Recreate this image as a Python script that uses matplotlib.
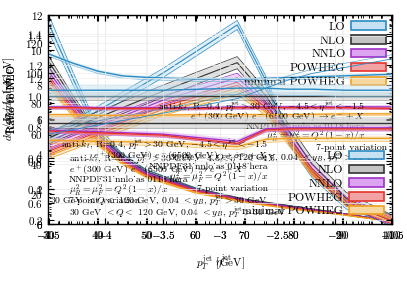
import numpy as np
import matplotlib
matplotlib.use("Agg")
import matplotlib.pyplot as plt
from matplotlib.patches import Patch
from matplotlib.ticker import FuncFormatter, MultipleLocator, AutoMinorLocator

plt.rcParams['font.family'] = 'serif'
plt.rcParams['font.serif'] = ['cmr10', 'DejaVu Serif']
plt.rcParams['mathtext.fontset'] = 'cm'
plt.rcParams['axes.formatter.use_mathtext'] = True
plt.rcParams['axes.unicode_minus'] = False

# order / colours of the predictions
labels = ['LO', 'NLO', 'NNLO', 'POWHEG', 'minimal POWHEG']
edge = ['#2a8bc4', '#333333', '#a030c8', '#e8322c', '#f0a020']
fill = ['#c6e2f2', '#c4c4c4', '#dca4f0', '#f2a4a4', '#f7d8a0']

# pT spectrum  [pb/GeV]
pt = [30, 35, 40, 45, 50, 60, 70, 80, 90, 100]
spec_pt = {
    'LO':             [11.6, 8.4, 5.4, 3.9, 3.0, 2.0, 1.35, 0.95, 0.55, 0.15],
    'NLO':            [9.4, 7.2, 5.2, 3.9, 3.0, 2.0, 1.40, 1.00, 0.60, 0.18],
    'NNLO':           [8.8, 6.9, 5.0, 3.8, 2.9, 1.95, 1.35, 0.95, 0.58, 0.16],
    'POWHEG':         [8.4, 6.6, 4.8, 3.6, 2.8, 1.9, 1.30, 0.90, 0.55, 0.15],
    'minimal POWHEG': [8.0, 6.3, 4.6, 3.5, 2.7, 1.8, 1.25, 0.85, 0.52, 0.14],
}
spec_pt_err = [0.35, 0.25, 0.2, 0.15, 0.15]

# eta spectrum [pb]
eta = [-4.5, -3.5, -2.85, -2.6, -2.4, -2.2, -1.9, -1.5]
spec_eta = {
    'LO':             [56, 100, 132, 95, 56, 34, 13, 3],
    'NLO':            [57, 88, 107, 85, 62, 40, 17, 2],
    'NNLO':           [52, 82, 97, 80, 58, 37, 15, 2],
    'POWHEG':         [48, 78, 92, 77, 56, 35, 14, 2],
    'minimal POWHEG': [45, 74, 88, 74, 54, 34, 14, 3],
}
spec_eta_err = [3, 4, 3, 2, 2]

# ratio to NLO vs pT
ratio_pt = {
    'LO':             [1.27, 1.21, 1.16, 1.13, 1.12, 1.11, 1.11, 1.12, 1.13, 1.14],
    'NLO':            [1.0] * 10,
    'NNLO':           [0.93, 0.93, 0.925, 0.925, 0.925, 0.925, 0.93, 0.93, 0.93, 0.93],
    'POWHEG':         [0.925, 0.925, 0.92, 0.92, 0.92, 0.92, 0.925, 0.925, 0.925, 0.92],
    'minimal POWHEG': [0.88, 0.88, 0.875, 0.875, 0.875, 0.88, 0.88, 0.88, 0.885, 0.885],
}
ratio_pt_lo = {'LO': 0.015, 'NLO': 0.025, 'NNLO': 0.015, 'POWHEG': 0.006, 'minimal POWHEG': 0.012}

# ratio to NLO vs eta
ratio_eta = {
    'LO':             [1.14, 1.14, 1.15, 1.15, 1.145, 1.145, 1.14, 1.14],
    'NLO':            [0.985] * 8,
    'NNLO':           [0.95, 0.93, 0.895, 0.955, 0.96, 0.96, 0.96, 0.96],
    'POWHEG':         [0.945, 0.925, 0.885, 0.95, 0.955, 0.955, 0.955, 0.955],
    'minimal POWHEG': [0.90, 0.89, 0.87, 0.905, 0.91, 0.91, 0.91, 0.91],
}
ratio_eta_lo = {'LO': 0.03, 'NLO': 0.026, 'NNLO': 0.015, 'POWHEG': 0.006, 'minimal POWHEG': 0.015}

# rising LO lines seen across the ratio panel (eta)
lo_rise = [0.93, 1.03, 1.10, 1.15, 1.19, 1.22, 1.25, 1.29]

proc = [r'anti-$k_t$, R=0.4, $p_T^{\rm jet} > 30$ GeV, $-4.5 < \eta^{\rm jet} < -1.5$',
        r'$e^+$(300 GeV) $e^-$(6500 GeV) $\to e^- + X$',
        r'NNPDF31_nnlo_as_0118_hera',
        r'$\mu_R^2 = \mu_F^2 = Q^2\,(1-x)/x$',
        r'7-point variation',
        r'30 GeV $< Q <$ 120 GeV, 0.04 $< y_B$, $p_T^{\rm jet} > 30$ GeV']

fig = plt.figure(figsize=(4.07, 2.85), dpi=100)
rect = [48 / 407, 61 / 285, 344 / 407, 209 / 285]
ax1 = fig.add_axes(rect, label='pt')
ax2 = fig.add_axes(rect, label='eta')
ax3 = fig.add_axes(rect, label='rpt')
ax4 = fig.add_axes(rect, label='reta')

gfmt = FuncFormatter(lambda v, p: f'${v:g}$')
for ax in (ax1, ax2, ax3, ax4):
    ax.set_facecolor('none')
    ax.tick_params(which='both', direction='in', top=True, right=True, labelsize=8)
    ax.tick_params(which='major', length=4)
    ax.tick_params(which='minor', length=2)
    ax.xaxis.set_minor_locator(AutoMinorLocator())
    ax.yaxis.set_minor_locator(AutoMinorLocator())
    ax.grid(True, color='#ececec', lw=0.5)
    ax.set_axisbelow(True)

ax1.set_xlim(30, 100)
ax1.set_ylim(0, 12)
ax1.xaxis.set_major_locator(MultipleLocator(10))
ax2.set_xlim(-4.5, -1.5)
ax2.set_ylim(0, 138.6)
ax2.xaxis.set_major_locator(MultipleLocator(0.5))
ax2.yaxis.set_major_locator(MultipleLocator(20))
ax3.set_xlim(29.7, 100.3)
ax3.set_ylim(0.174, 1.523)
ax3.xaxis.set_major_locator(MultipleLocator(10))
ax3.yaxis.set_major_locator(MultipleLocator(0.2))
ax4.set_xlim(-4.5, -1.5)
ax4.set_ylim(0.5, 1.5)
ax4.xaxis.set_major_locator(MultipleLocator(0.5))
ax4.yaxis.set_major_locator(MultipleLocator(0.2))
ax4.xaxis.set_major_formatter(gfmt)
ax2.xaxis.set_major_formatter(gfmt)
ax4.yaxis.set_major_formatter(FuncFormatter(lambda v, p: f'${v:.1f}$'.replace('1.0', '1')))

for i, k in enumerate(labels):
    y = np.array(spec_pt[k])
    lo, hi = y * (1 - spec_pt_err[i] / 8), y * (1 + spec_pt_err[i] / 8)
    ax1.fill_between(pt, lo, hi, color=fill[i], alpha=0.5, lw=0)
    ax1.plot(pt, lo, color=edge[i], lw=0.5)
    ax1.plot(pt, hi, color=edge[i], lw=0.5)
    ax1.plot(pt, y, color=edge[i], lw=0.8)

    y = np.array(spec_eta[k])
    lo, hi = y - spec_eta_err[i], y + spec_eta_err[i]
    ax2.fill_between(eta, lo, hi, color=fill[i], alpha=0.5, lw=0)
    ax2.plot(eta, lo, color=edge[i], lw=0.5)
    ax2.plot(eta, hi, color=edge[i], lw=0.5)
    ax2.plot(eta, y, color=edge[i], lw=0.8)

    y = np.array(ratio_pt[k])
    d = ratio_pt_lo[k]
    ax3.fill_between(pt, y - d, y + d, color=fill[i], alpha=0.5, lw=0)
    ax3.plot(pt, y, color=edge[i], lw=1.0)
    ax3.plot(pt, y - d, color=edge[i], lw=0.4, alpha=0.6)

    y = np.array(ratio_eta[k])
    d = ratio_eta_lo[k]
    ax4.fill_between(eta, y - d, y + d, color=fill[i], alpha=0.5, lw=0)
    ax4.plot(eta, y, color=edge[i], lw=1.0)
    ax4.plot(eta, y - d, color=edge[i], lw=0.4, alpha=0.6)

ax4.plot(eta, lo_rise, color=edge[0], lw=0.6)
ax4.plot(eta, np.array(lo_rise) + 0.02, color=edge[0], lw=0.5, alpha=0.7)

handles = [Patch(facecolor=fill[i], edgecolor=edge[i], lw=1.2) for i in range(5)]
ax3.legend(handles, labels, loc='upper right', frameon=False, markerfirst=False,
           fontsize=8.5, handlelength=2.9, handleheight=0.7, labelspacing=0.3,
           borderaxespad=0.15, handletextpad=0.5)
ax4.legend(handles, labels, loc='lower right', frameon=False, markerfirst=False,
           fontsize=8.5, handlelength=3.0, handleheight=0.7, labelspacing=0.3,
           borderaxespad=0.25, handletextpad=0.5)

# process text blocks
ty = [0.56, 0.512, 0.464, 0.416, 0.366, 0.318]
for j, s in enumerate(proc):
    ax3.text(0.922 if j < 4 else 0.985, ty[j], s, transform=ax3.transAxes,
             ha='right', va='center', fontsize=7)
ty2 = [0.377, 0.325, 0.273, 0.221, 0.17, 0.11]
for j, s in enumerate(proc):
    ax4.text(0.64, ty2[j], s, transform=ax4.transAxes, ha='right', va='center', fontsize=7)
ty3 = [0.31, 0.26, 0.21, 0.16, 0.11, 0.055]
for j, s in enumerate(proc):
    ax2.text(0.06, ty3[j], s, transform=ax2.transAxes, ha='left', va='center', fontsize=7)

ax1.set_xlabel(r'$p_T^{\rm jet}$ [GeV]', fontsize=8)
ax2.set_xlabel(r'$\eta^{\rm jet}$', fontsize=8)
ax1.set_ylabel(r'$d\sigma/dp_T$ [pb/GeV]', fontsize=8)
ax2.set_ylabel(r'$d\sigma/d\eta$ [pb]', fontsize=8)
ax3.set_ylabel('Ratio to NLO', fontsize=8)
ax4.set_ylabel('Ratio to NLO', fontsize=8)
for ax in (ax1, ax2, ax3, ax4):
    ax.yaxis.set_label_coords(-0.09, 0.6)
ax1.xaxis.set_label_coords(0.5, -0.14)
ax2.xaxis.set_label_coords(0.51, -0.14)
ax3.set_xlabel('')

fig.savefig('out.png', dpi=100)
